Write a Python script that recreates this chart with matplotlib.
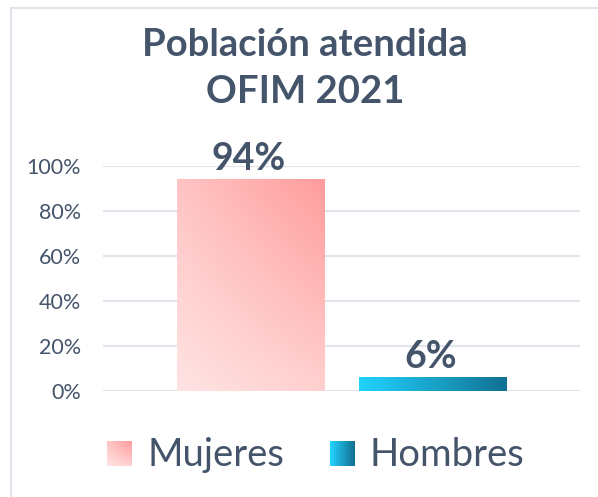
import numpy as np
import matplotlib
matplotlib.use("Agg")
import matplotlib.pyplot as plt
from matplotlib.colors import to_rgb
from matplotlib.patches import Rectangle
from matplotlib.legend_handler import HandlerBase
from matplotlib.lines import Line2D

# data
categories = ["Mujeres", "Hombres"]
values = [0.94, 0.06]
value_labels = ["94%", "6%"]
yticks = [0, 0.2, 0.4, 0.6, 0.8, 1.0]
ytick_labels = ["0%", "20%", "40%", "60%", "80%", "100%"]
title_lines = ["Población atendida", "OFIM 2021"]

TEXT = "#44546A"
GRID = "#E1E5EB"
# gradient corners: top-left, top-right, bottom-left, bottom-right
gradients = [
    ("#FFC4C4", "#FF9C9C", "#FFE3E3", "#FFD0D0"),
    ("#22D2FE", "#127293", "#22D2FE", "#127293"),
]

plt.rcParams["font.family"] = ["Lato", "DejaVu Sans"]


def gradient(corners, n=64):
    tl, tr, bl, br = [np.array(to_rgb(c)) for c in corners]
    u = np.linspace(0, 1, n)[None, :, None]
    v = np.linspace(0, 1, n)[:, None, None]
    top = tl + (tr - tl) * u
    bot = bl + (br - bl) * u
    return bot + (top - bot) * v


class GradHandler(HandlerBase):
    def __init__(self, corners, n=16):
        super().__init__()
        self.corners = corners
        self.n = n

    def create_artists(self, legend, orig, xd, yd, w, h, fontsize, trans):
        img = gradient(self.corners, self.n)
        n = self.n
        side = min(w, h)
        x0 = xd + (w - side) / 2
        y0 = yd + (h - side) / 2
        arts = []
        for i in range(n):
            for j in range(n):
                arts.append(Rectangle((x0 + side * j / n, y0 + side * i / n),
                                      side / n * 1.05, side / n * 1.05,
                                      facecolor=img[i, j], edgecolor="none",
                                      transform=trans))
        return arts


fig = plt.figure(figsize=(5.98, 4.97), dpi=100)
ax = fig.add_axes([0.172, 0.2133, 0.798, 0.4527])

positions = [0.31, 0.692]
width = 0.31
bars = ax.bar(positions, values, width=width, facecolor="none",
              edgecolor="none", zorder=3)
for bar, corners in zip(bars, gradients):
    x0 = bar.get_x()
    im = ax.imshow(gradient(corners), origin="lower", aspect="auto",
                   extent=(x0, x0 + bar.get_width(), 0, bar.get_height()),
                   interpolation="bilinear", zorder=3)
    im.set_clip_path(bar)

for pos, val, lab in zip(positions, values, value_labels):
    ax.text(pos - 0.004, val + 0.04, lab, ha="center", va="baseline",
            fontsize=27, fontweight="bold", color=TEXT)

ax.set_xlim(0, 1)
ax.set_ylim(0, 1)
ax.set_yticks(yticks)
ax.set_yticklabels(ytick_labels)
ax.set_xticks([])
ax.tick_params(axis="y", length=0, pad=16, labelsize=15.5, labelcolor=TEXT)
ax.grid(axis="y", color=GRID, linewidth=1.5, zorder=0)
for s in ax.spines.values():
    s.set_visible(False)

fig.text(0.51, 0.888, title_lines[0], ha="center", va="baseline",
         fontsize=27.5, fontweight="bold", color=TEXT)
fig.text(0.51, 0.793, title_lines[1], ha="center", va="baseline",
         fontsize=27.5, fontweight="bold", color=TEXT)

handles = [Rectangle((0, 0), 1, 1) for _ in categories]
handler_map = {h: GradHandler(c) for h, c in zip(handles, gradients)}
fig.legend(handles, categories, handler_map=handler_map, loc="center",
           bbox_to_anchor=(0.528, 0.085), ncol=2, frameon=False, fontsize=27.5,
           handlelength=0.65, handleheight=0.65, handletextpad=0.4,
           columnspacing=1.2, labelcolor=TEXT)

# outer chart border (top and left edges visible)
fig.add_artist(Line2D([11 / 598, 1], [1 - 8 / 497] * 2, color=GRID,
                      linewidth=1.5, transform=fig.transFigure))
fig.add_artist(Line2D([11 / 598] * 2, [0, 1 - 8 / 497], color=GRID,
                      linewidth=1.5, transform=fig.transFigure))

fig.savefig("out.png", dpi=100)
